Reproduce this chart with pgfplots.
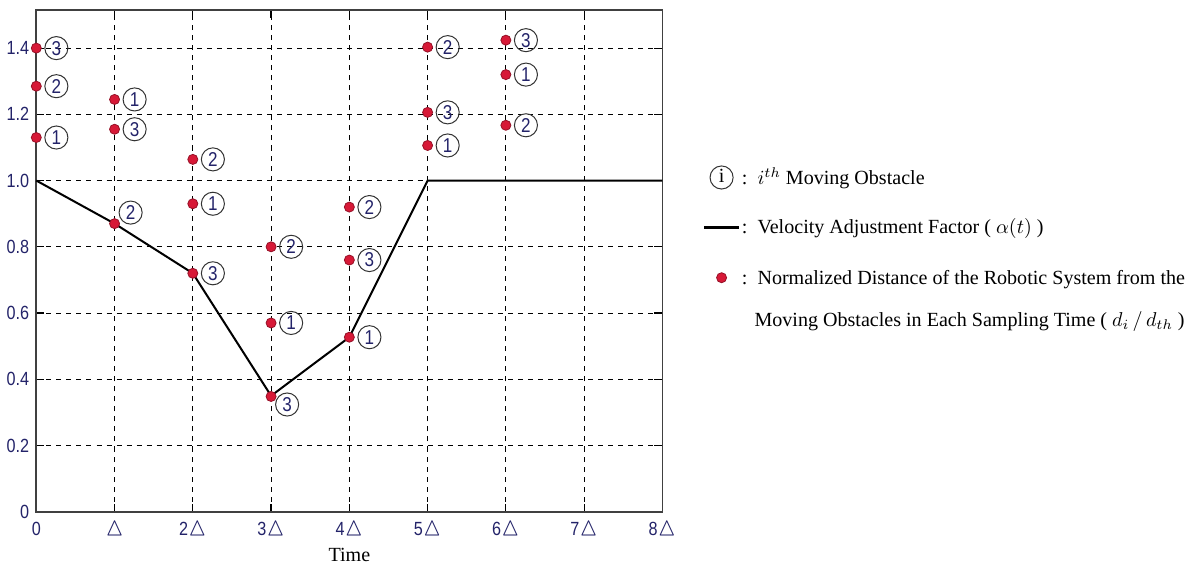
\documentclass[border=0pt]{standalone}
\usepackage{fontspec}
\setmainfont{Liberation Serif}
\newfontfamily\ticksf[FakeStretch=0.85]{Liberation Sans}
\usepackage{amssymb}
\usepackage{graphicx}
\usepackage{pgfplots}
\pgfplotsset{compat=1.18}
\definecolor{ticknavy}{RGB}{35,35,105}
\definecolor{dotred}{RGB}{215,25,55}
\newcommand{\tri}{\scalebox{1.35}{$\vartriangle$}}
\pgfplotsset{
  circlab/.style={
    only marks, mark=*, mark size=2.5pt,
    mark options={fill=dotred, draw=dotred!70!black, line width=0.4pt},
    point meta=explicit symbolic, nodes near coords,
    nodes near coords style={anchor=center, circle, draw=black!80, line width=0.5pt,
      inner sep=0pt, minimum size=11.5pt, font=\ticksf\fontsize{10}{10}\selectfont, text=ticknavy},
    forget plot},
}
\begin{document}
\begin{tikzpicture}
\begin{axis}[
  scale only axis, width=312pt, height=250pt,
  xmin=0, xmax=8, ymin=0, ymax=1.515,
  clip=false,
  axis line style={draw=black!75, line width=0.8pt},
  xtick={0,1,2,3,4,5,6,7,8},
  xticklabels={0,\tri,2\tri,3\tri,4\tri,5\tri,6\tri,7\tri,8\tri},
  ytick={0,0.2,0.4,0.6,0.8,1.0,1.2,1.4},
  yticklabels={0,0.2,0.4,0.6,0.8,1.0,1.2,1.4},
  tick align=inside, major tick length=4pt,
  tick style={black, line width=0.6pt},
  grid=major,
  major grid style={black, line width=0.5pt, dash pattern=on 2.5pt off 2.5pt},
  ticklabel style={font=\ticksf\fontsize{9.5}{10}\selectfont, text=ticknavy},
  xticklabel style={yshift=-1.5pt},
  /pgf/number format/assume math mode=true,
  xlabel={Time},
  xlabel style={font=\fontsize{10}{12}\selectfont, yshift=1pt},
  legend style={draw=none, fill=none, at={(axis description cs:1.055,0.703)}, anchor=north west,
    font=\fontsize{10}{12}\selectfont, row sep=11.5pt},
  legend cell align=left,
]
\addplot[black, line width=1pt, forget plot] coordinates {
  (0,1.0) (1,0.87) (2,0.72) (3,0.35) (4,0.527) (5,1.0) (8,1.0)};
\addplot[circlab, nodes near coords style={xshift=10pt}] table[meta=l] {
x y l
0 1.400 3
0 1.285 2
0 1.130 1
1 1.245 1
1 1.155 3
2 1.064 2
2 0.930 1
2 0.720 3
3 0.800 2
3 0.570 1
4 0.920 2
4 0.760 3
4 0.527 1
5 1.403 2
5 1.206 3
5 1.106 1
6 1.424 3
6 1.320 1
6 1.167 2
};
\addplot[circlab, nodes near coords style={xshift=8pt, yshift=5.5pt}] table[meta=l] {
x y l
1 0.870 2
};
\addplot[circlab, nodes near coords style={xshift=8pt, yshift=-4pt}] table[meta=l] {
x y l
3 0.348 3
};
\addlegendimage{legend image code/.code={\path (0,0) (0.6cm,0); \node[anchor=center, circle, draw=black!80, line width=0.5pt, inner sep=0pt, minimum size=11.5pt] at (0.3cm,0) {i};}}
\addlegendentry{\hspace{-1pt}:\ \ $i^{th}$ Moving Obstacle}
\addlegendimage{black, line width=1.2pt}
\addlegendentry{\hspace{-1pt}:\ \ Velocity Adjustment Factor ( $\alpha(t)$ )}
\addlegendimage{only marks, mark=*, mark size=2.5pt, mark options={fill=dotred, draw=dotred!70!black, line width=0.4pt}}
\addlegendentry{\begin{tabular}[t]{@{}l@{}}\hspace{-1pt}:\ \ Normalized Distance of the Robotic System from the\\[9pt] \hphantom{:}\ Moving Obstacles in Each Sampling Time ( $d_i\,/\,d_{th}$ )\end{tabular}}
\end{axis}
\path (current axis.north) ++(0,5pt);
\end{tikzpicture}
\end{document}
